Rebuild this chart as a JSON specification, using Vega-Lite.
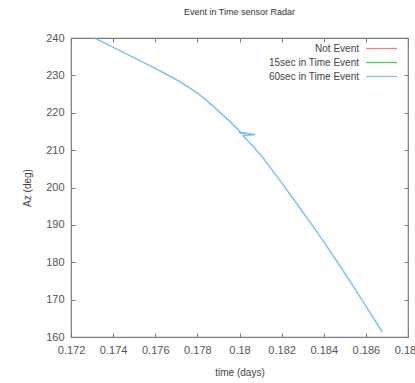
{
  "$schema": "https://vega.github.io/schema/vega-lite/v6.json",
  "autosize": {"type": "none"},
  "padding": {"left": 71, "top": 38, "right": 7, "bottom": 46},
  "width": 337,
  "height": 299,
  "background": "white",
  "title": {
    "text": "Event in Time sensor Radar",
    "font": "Liberation Sans",
    "fontSize": 9,
    "fontWeight": "normal",
    "color": "#333",
    "offset": 15,
    "anchor": "middle"
  },
  "config": {
    "view": {"stroke": "#7a7a7a", "strokeWidth": 1.2},
    "axis": {
      "domain": false,
      "grid": false,
      "tickColor": "#7a7a7a",
      "tickSize": -4,
      "labelFont": "Liberation Sans",
      "labelFontSize": 11,
      "labelColor": "#555",
      "labelFlush": false,
      "labelOverlap": false,
      "titleFont": "Liberation Sans",
      "titleFontSize": 10,
      "titleFontWeight": "normal",
      "titleColor": "#444"
    }
  },
  "data": {
    "values": [
      {"i": 0, "series": "Not Event", "t": 0.17998, "az": 214.9},
      {"i": 1, "series": "Not Event", "t": 0.18010, "az": 214.4},
      {"i": 2, "series": "15sec in Time Event", "t": 0.18003, "az": 214.7},
      {"i": 3, "series": "15sec in Time Event", "t": 0.18030, "az": 214.3},
      {"i": 4, "series": "60sec in Time Event", "t": 0.17314, "az": 239.9},
      {"i": 5, "series": "60sec in Time Event", "t": 0.17409, "az": 237.3},
      {"i": 6, "series": "60sec in Time Event", "t": 0.17494, "az": 234.9},
      {"i": 7, "series": "60sec in Time Event", "t": 0.17575, "az": 232.6},
      {"i": 8, "series": "60sec in Time Event", "t": 0.17646, "az": 230.5},
      {"i": 9, "series": "60sec in Time Event", "t": 0.17708, "az": 228.6},
      {"i": 10, "series": "60sec in Time Event", "t": 0.17765, "az": 226.6},
      {"i": 11, "series": "60sec in Time Event", "t": 0.17827, "az": 224.1},
      {"i": 12, "series": "60sec in Time Event", "t": 0.17884, "az": 221.3},
      {"i": 13, "series": "60sec in Time Event", "t": 0.17950, "az": 217.9},
      {"i": 14, "series": "60sec in Time Event", "t": 0.18007, "az": 214.7},
      {"i": 15, "series": "60sec in Time Event", "t": 0.18074, "az": 214.2},
      {"i": 16, "series": "60sec in Time Event", "t": 0.18017, "az": 213.8},
      {"i": 17, "series": "60sec in Time Event", "t": 0.18059, "az": 211.4},
      {"i": 18, "series": "60sec in Time Event", "t": 0.18112, "az": 207.9},
      {"i": 19, "series": "60sec in Time Event", "t": 0.18192, "az": 201.9},
      {"i": 20, "series": "60sec in Time Event", "t": 0.18273, "az": 195.6},
      {"i": 21, "series": "60sec in Time Event", "t": 0.18349, "az": 189.6},
      {"i": 22, "series": "60sec in Time Event", "t": 0.18411, "az": 184.6},
      {"i": 23, "series": "60sec in Time Event", "t": 0.18477, "az": 179.0},
      {"i": 24, "series": "60sec in Time Event", "t": 0.18539, "az": 173.7},
      {"i": 25, "series": "60sec in Time Event", "t": 0.18610, "az": 167.4},
      {"i": 26, "series": "60sec in Time Event", "t": 0.18677, "az": 161.4}
    ]
  },
  "encoding": {
    "x": {
      "field": "t",
      "type": "quantitative",
      "scale": {"domain": [0.172, 0.188], "nice": false, "zero": false},
      "axis": {"title": "time (days)", "values": [0.172, 0.174, 0.176, 0.178, 0.18, 0.182, 0.184, 0.186, 0.188], "format": ".3~f", "labelPadding": 11, "titlePadding": 12}
    },
    "y": {
      "field": "az",
      "type": "quantitative",
      "scale": {"domain": [160, 240], "nice": false, "zero": false},
      "axis": {"title": "Az (deg)", "values": [160, 170, 180, 190, 200, 210, 220, 230, 240], "labelPadding": 11, "titlePadding": 13}
    }
  },
  "layer": [
    {
      "mark": {"type": "line", "strokeWidth": 1.5, "clip": true},
      "encoding": {
        "order": {"field": "i", "type": "quantitative"},
        "color": {
          "field": "series",
          "type": "nominal",
          "scale": {
            "domain": ["Not Event", "15sec in Time Event", "60sec in Time Event"],
            "range": ["#ff7b7b", "#55c855", "#80bfff"]
          },
          "legend": {
            "title": null,
            "orient": "none",
            "legendX": 302,
            "legendY": 2,
            "symbolType": "M-2,0H2",
            "symbolSize": 240,
            "symbolStrokeWidth": 1.3,
            "labelAlign": "right",
            "labelOffset": -31,
            "labelFont": "Liberation Sans",
            "labelFontSize": 10,
            "labelColor": "#444",
            "rowPadding": 0
          }
        }
      }
    },
    {
      "mark": {"type": "line", "opacity": 0},
      "encoding": {
        "order": {"field": "i", "type": "quantitative"},
        "detail": {"field": "series"},
        "x": {
          "field": "t",
          "type": "quantitative",
          "axis": {"orient": "top", "title": null, "labels": false, "values": [0.172, 0.174, 0.176, 0.178, 0.18, 0.182, 0.184, 0.186, 0.188]}
        },
        "y": {
          "field": "az",
          "type": "quantitative",
          "axis": {"orient": "right", "title": null, "labels": false, "values": [160, 170, 180, 190, 200, 210, 220, 230, 240]}
        }
      }
    }
  ],
  "resolve": {"axis": {"x": "independent", "y": "independent"}}
}
